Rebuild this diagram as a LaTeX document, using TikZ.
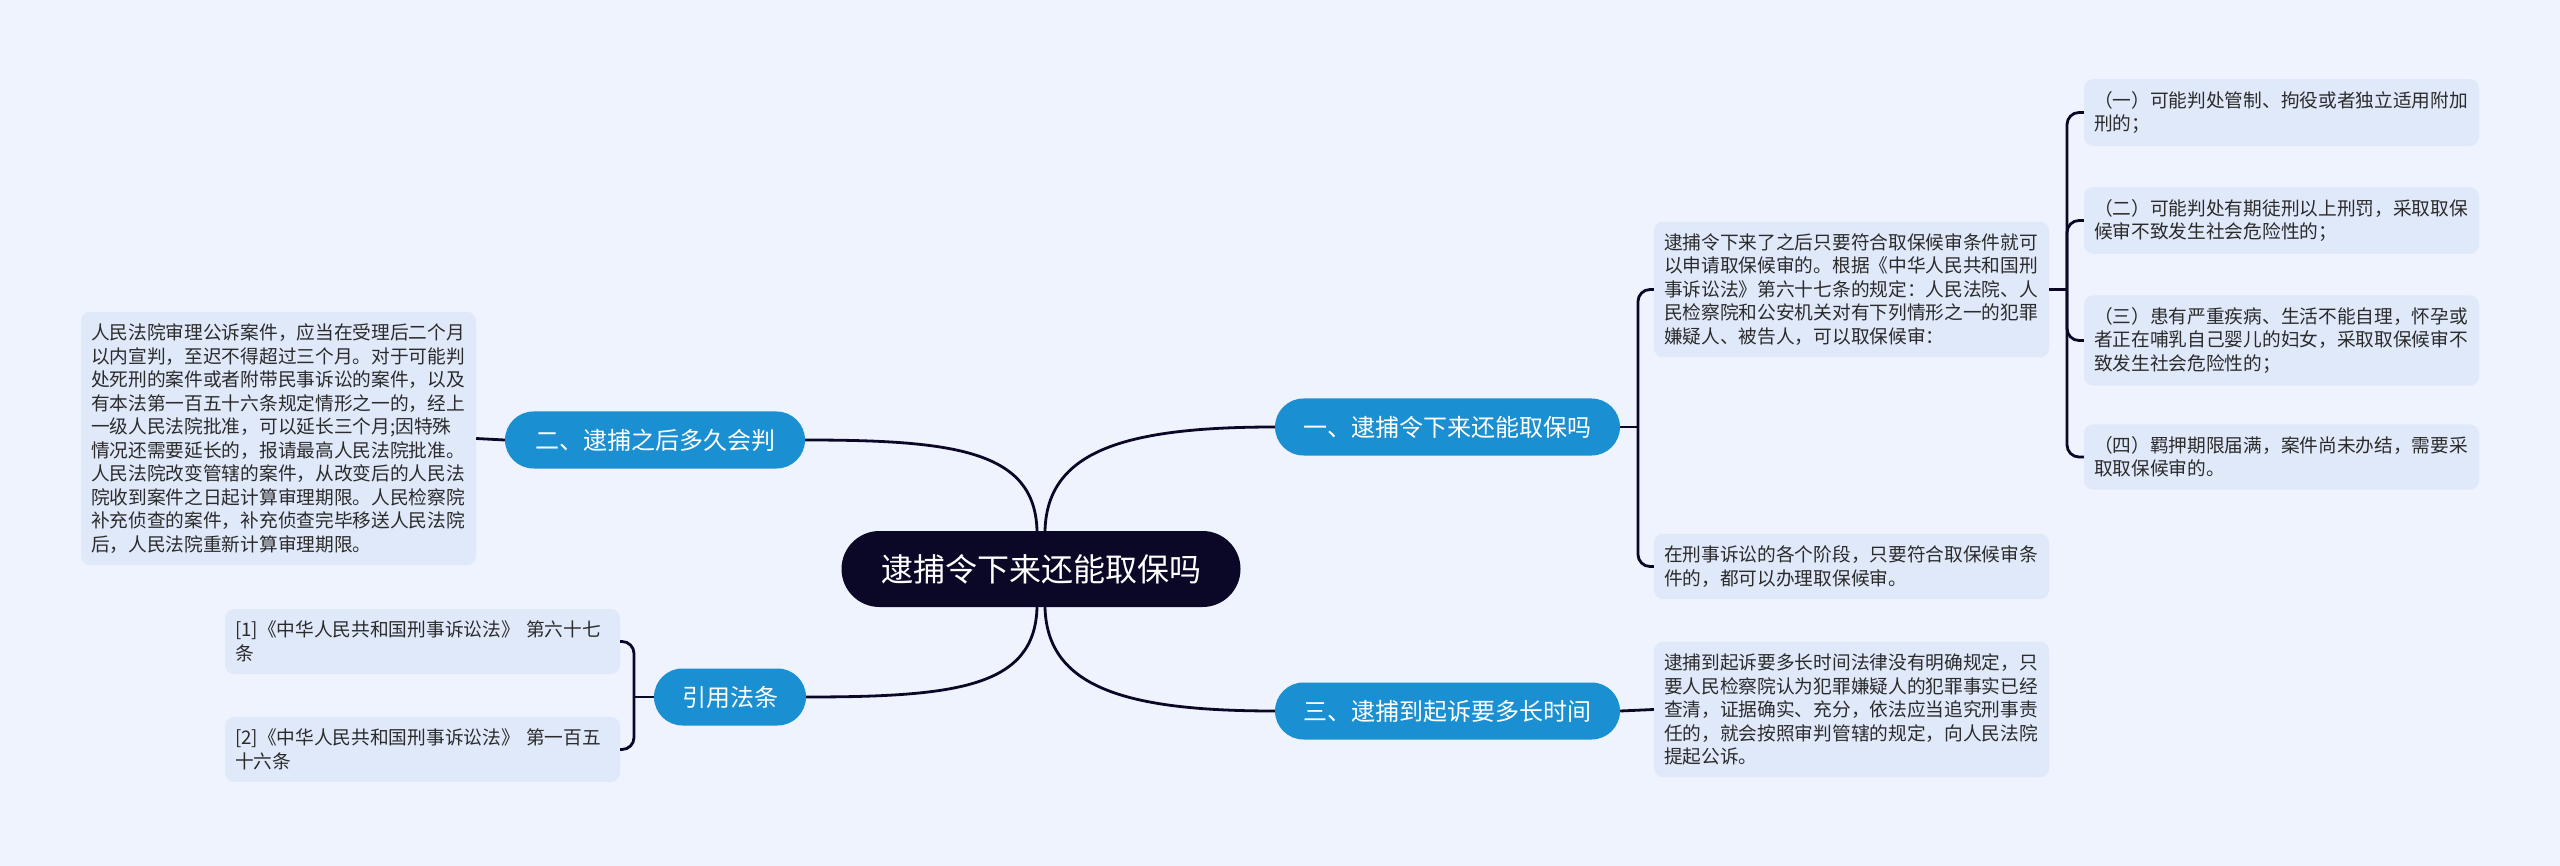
\documentclass[tikz,border=0pt]{standalone}
\usepackage{fontspec}
\newfontfamily\cjk{Noto Sans CJK SC}
\definecolor{bgc}{HTML}{EEF3FD}
\definecolor{leafc}{HTML}{E0E9FA}
\definecolor{bluec}{HTML}{1A8FD1}
\definecolor{rootc}{HTML}{0B0727}
\definecolor{linec}{HTML}{0B0727}
\definecolor{textc}{HTML}{2B2B2B}
\tikzset{
  rootnode/.style={fill=rootc, text=white, rounded corners=38pt, minimum width=399pt, minimum height=76pt, inner sep=0pt, font=\cjk\fontsize{32pt}{38pt}\selectfont},
  branchnode/.style={fill=bluec, text=white, rounded corners=28.5pt, minimum height=57pt, inner sep=0pt, font=\cjk\fontsize{24pt}{28pt}\selectfont},
  leafnode/.style={fill=leafc, text=textc, rounded corners=9pt, text width=375pt, align=left, inner xsep=10pt, inner ysep=12pt, font=\cjk\fontsize{18.7pt}{23.5pt}\selectfont},
  conn/.style={draw=linec, line width=2.8pt},
  hook/.style={draw=linec, line width=2.8pt, rounded corners=12pt}
}
\begin{document}
\begin{tikzpicture}[x=1pt, y=-1pt]
\path[fill=bgc] (0,0) rectangle (2560,866);
\useasboundingbox (0,0) rectangle (2560,866);

% root and branches
\node[rootnode] (root) at (1041,569) {逮捕令下来还能取保吗};
\node[branchnode, minimum width=345pt] (b1) at (1447.5,427) {一、逮捕令下来还能取保吗};
\node[branchnode, minimum width=300pt] (b2) at (655,440) {二、逮捕之后多久会判};
\node[branchnode, minimum width=345pt] (b3) at (1447.5,711) {三、逮捕到起诉要多长时间};
\node[branchnode, minimum width=152pt] (b4) at (730,697) {引用法条};

% leaves
\node[leafnode] (l2) at (278.5,438.5) {人民法院审理公诉案件，应当在受理后二个月\\以内宣判，至迟不得超过三个月。对于可能判\\处死刑的案件或者附带民事诉讼的案件，以及\\有本法第一百五十六条规定情形之一的，经上\\一级人民法院批准，可以延长三个月;因特殊\\情况还需要延长的，报请最高人民法院批准。\\人民法院改变管辖的案件，从改变后的人民法\\院收到案件之日起计算审理期限。人民检察院\\补充侦查的案件，补充侦查完毕移送人民法院\\后，人民法院重新计算审理期限。};
\node[leafnode] (r1) at (422.5,641.5) {[1]《中华人民共和国刑事诉讼法》 第六十七\\条};
\node[leafnode] (r2) at (422.5,749.5) {[2]《中华人民共和国刑事诉讼法》 第一百五\\十六条};
\node[leafnode] (t1) at (1851.5,289.5) {逮捕令下来了之后只要符合取保候审条件就可\\以申请取保候审的。根据《中华人民共和国刑\\事诉讼法》第六十七条的规定：人民法院、人\\民检察院和公安机关对有下列情形之一的犯罪\\嫌疑人、被告人，可以取保候审：};
\node[leafnode] (t2) at (1851.5,566.5) {在刑事诉讼的各个阶段，只要符合取保候审条\\件的，都可以办理取保候审。};
\node[leafnode] (t3) at (1851.5,709.5) {逮捕到起诉要多长时间法律没有明确规定，只\\要人民检察院认为犯罪嫌疑人的犯罪事实已经\\查清，证据确实、充分，依法应当追究刑事责\\任的，就会按照审判管辖的规定，向人民法院\\提起公诉。};
\node[leafnode] (s1) at (2281.5,112.5) {（一）可能判处管制、拘役或者独立适用附加\\刑的；};
\node[leafnode] (s2) at (2281.5,220.5) {（二）可能判处有期徒刑以上刑罚，采取取保\\候审不致发生社会危险性的；};
\node[leafnode] (s3) at (2281.5,340.5) {（三）患有严重疾病、生活不能自理，怀孕或\\者正在哺乳自己婴儿的妇女，采取取保候审不\\致发生社会危险性的；};
\node[leafnode] (s4) at (2281.5,457) {（四）羁押期限届满，案件尚未办结，需要采\\取取保候审的。};

% junction points
\coordinate (j1) at (1638,427);
\coordinate (jt) at (2067,289.5);
\coordinate (j4) at (634,697);

% root to branches
\draw[conn] ([xshift=4pt]root.north) .. controls +(2,-80) and +(-150,0) .. (b1.west);
\draw[conn] ([xshift=4pt]root.south) .. controls +(2,80) and +(-150,0) .. (b3.west);
\draw[conn] ([xshift=-4pt]root.north) .. controls +(-2,-80) and +(150,0) .. (b2.east);
\draw[conn] ([xshift=-4pt]root.south) .. controls +(-2,80) and +(150,0) .. (b4.east);

% branch to leaves
\draw[conn] (b2.west) -- (l2.east);
\draw[conn] (b3.east) -- (t3.west);
\draw[conn] (b1.east) -- (j1);
\draw[hook] (j1) |- (t1.west);
\draw[hook] (j1) |- (t2.west);
\draw[conn] (t1.east) -- (jt);
\draw[hook] (jt) |- (s1.west);
\draw[hook] (jt) |- (s2.west);
\draw[hook] (jt) |- (s3.west);
\draw[hook] (jt) |- (s4.west);
\draw[conn] (b4.west) -- (j4);
\draw[hook] (j4) |- (r1.east);
\draw[hook] (j4) |- (r2.east);
\end{tikzpicture}
\end{document}
